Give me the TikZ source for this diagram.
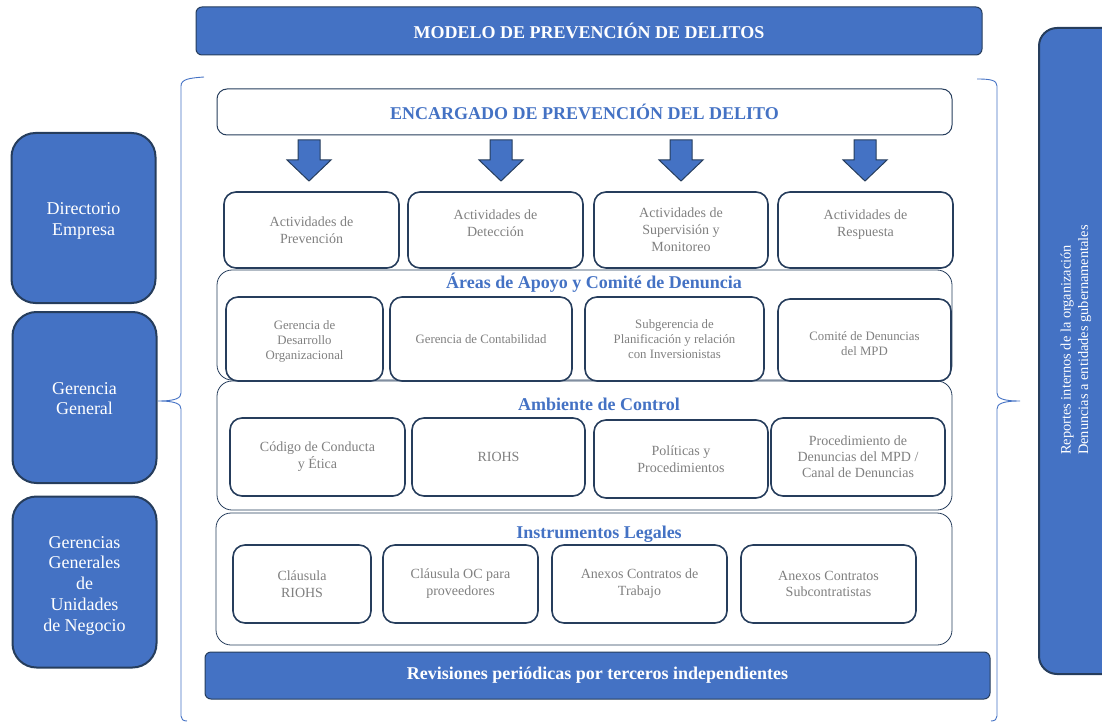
\documentclass[tikz,border=0pt]{standalone}
\usepackage{fontspec}
\setmainfont{Liberation Serif}
\definecolor{mpdblue}{RGB}{68,114,196}
\definecolor{mpdnavy}{RGB}{38,61,92}
\definecolor{mpdgray}{RGB}{128,128,128}

\tikzset{
  titlebar/.style={draw=mpdnavy, fill=mpdblue, rounded corners=6pt, line width=1pt,
    text=white, font=\bfseries\fontsize{18}{21}\selectfont},
  sidebox/.style={draw=mpdnavy, fill=mpdblue, rounded corners=24pt, line width=2pt,
    minimum width=144pt, minimum height=170pt, text=white, align=center,
    font=\fontsize{18}{20.7}\selectfont},
  groupbox/.style={draw=mpdnavy, rounded corners=15pt, line width=0.8pt},
  itembox/.style={draw=mpdnavy, fill=white, rounded corners=12pt, line width=1.6pt,
    text=mpdgray, align=center, font=\fontsize{14}{16.8}\selectfont},
  smallitem/.style={itembox, font=\fontsize{12.8}{15}\selectfont},
  grouptitle/.style={text=mpdblue, font=\bfseries\fontsize{18}{21}\selectfont},
  brace/.style={draw=mpdblue, line width=0.9pt},
  downarrow/.style={draw=mpdnavy, fill=mpdblue, line width=1pt, line join=miter},
}

\begin{document}
\begin{tikzpicture}[x=1pt, y=-1pt]
    \clip (0,0) rectangle (1102,722);

    % cabecera
    \node [titlebar, minimum width=786pt, minimum height=48pt] (modelo) at (589,31)
      {MODELO DE PREVENCIÓN DE DELITOS};
    \node [draw=mpdnavy, fill=white, rounded corners=10pt, line width=1pt,
      minimum width=735pt, minimum height=46pt, grouptitle] (encargado) at (584.5,112)
      {ENCARGADO DE PREVENCIÓN DEL DELITO};

    % flechas hacia las actividades
    \foreach \x/\n in {309/1,501/2,681/3,865/4} {
      \draw [downarrow] (\x-11,140) -- (\x+11,140) -- (\x+11,160) -- (\x+22,160)
        -- (\x,181) -- (\x-22,160) -- (\x-11,160) -- cycle ;
    }

    % actividades
    \node [itembox, minimum width=175pt, minimum height=76pt] (prev) at (311.5,230)
      {Actividades de\\Prevención};
    \node [itembox, minimum width=175pt, minimum height=76pt, text depth=14pt] (detec) at (495.5,230)
      {Actividades de\\Detección};
    \node [itembox, minimum width=174pt, minimum height=76pt] (superv) at (681,230)
      {Actividades de\\Supervisión y\\Monitoreo};
    \node [itembox, minimum width=175pt, minimum height=76pt, text depth=13pt] (resp) at (865.5,230)
      {Actividades de\\Respuesta};

    % grupos
    \draw [groupbox] (217,270) rectangle (952,380) ;
    \draw [groupbox] (217,381) rectangle (952,510) ;
    \draw [groupbox] (216,513) rectangle (952,645) ;
    \node [grouptitle] (apoyo) at (594,283) {Áreas de Apoyo y Comité de Denuncia};
    \node [grouptitle] (ambiente) at (599,404) {Ambiente de Control};
    \node [grouptitle] (legales) at (599,534) {Instrumentos Legales};

    % areas de apoyo
    \node [smallitem, minimum width=157pt, minimum height=84pt, text height=44pt] (desarrollo)
      at (304.5,339) {Gerencia de\\Desarrollo\\Organizacional};
    \node [smallitem, minimum width=182pt, minimum height=84pt] (contab) at (481,339)
      {Gerencia de Contabilidad};
    \node [smallitem, minimum width=179pt, minimum height=84pt] (planif) at (674.5,339)
      {Subgerencia de\\Planificación y relación\\con Inversionistas};
    \node [smallitem, minimum width=173pt, minimum height=82pt, text height=31pt] (comite)
      at (864.5,340) {Comité de Denuncias\\del MPD};

    % ambiente de control
    \node [itembox, minimum width=175pt, minimum height=78pt] (codigo) at (317.5,457)
      {Código de Conducta\\y Ética};
    \node [itembox, minimum width=173pt, minimum height=78pt] (riohs) at (498.5,457)
      {RIOHS};
    \node [itembox, minimum width=174pt, minimum height=78pt] (politicas) at (681,459)
      {Políticas y\\Procedimientos};
    \node [itembox, minimum width=174pt, minimum height=78pt, font=\fontsize{14}{16}\selectfont]
      (canal) at (858,457) {Procedimiento de\\Denuncias del MPD /\\Canal de Denuncias};

    % instrumentos legales
    \node [itembox, minimum width=138pt, minimum height=78pt] (clausula) at (302,584)
      {Cláusula\\RIOHS};
    \node [itembox, minimum width=155pt, minimum height=78pt] (proveed) at (460.5,584)
      {Cláusula OC para\\proveedores};
    \node [itembox, minimum width=175pt, minimum height=78pt] (trabajo) at (639.5,584)
      {Anexos Contratos de\\Trabajo};
    \node [itembox, minimum width=175pt, minimum height=78pt] (subcontr) at (828.5,584)
      {Anexos Contratos\\Subcontratistas};

    \node [titlebar, minimum width=785pt, minimum height=47pt] (revisiones) at (597.5,675.5)
      {Revisiones periódicas por terceros independientes};

    % lado izquierdo
    \node [sidebox, text height=38pt] (directorio) at (83.5,218) {Directorio\\Empresa};
    \node [sidebox, minimum height=171pt, text height=35pt] (gerencia) at (84.5,397.5)
      {Gerencia\\General};
    \node [sidebox, minimum height=171pt, text height=102pt] (unidades) at (84.5,582)
      {Gerencias\\Generales\\de\\Unidades\\de Negocio};

    % lado derecho
    \node [draw=mpdnavy, fill=mpdblue, rounded corners=18pt, line width=2pt,
      minimum width=100pt, minimum height=646pt, anchor=north west] (reportes) at (1038,27) {};
    \node [rotate=90, text=white, align=left, font=\fontsize{14.4}{17.5}\selectfont]
      (reportestxt) at (1076,340)
      {Reportes internos de la organización\\Denuncias a entidades gubernamentales};

    % llaves
    \coordinate (lbtip) at (158,401);
    \coordinate (rbtip) at (1020,401);
    \draw [brace] (204,77) .. controls (190,78) and (181,79) .. (181,86) -- (181,393)
      .. controls (181,398) and (176,401) .. (lbtip)
      .. controls (176,401) and (181,404) .. (181,409) -- (181,716)
      .. controls (181,719) and (183,721) .. (187,721) ;
    \draw [brace] (977,79) .. controls (990,79) and (997,80) .. (997,86) -- (997,393)
      .. controls (997,398) and (1002,401) .. (rbtip)
      .. controls (1002,401) and (997,404) .. (997,409) -- (997,716)
      .. controls (997,719) and (995,721) .. (991,721) ;

  \end{tikzpicture}
\end{document}
